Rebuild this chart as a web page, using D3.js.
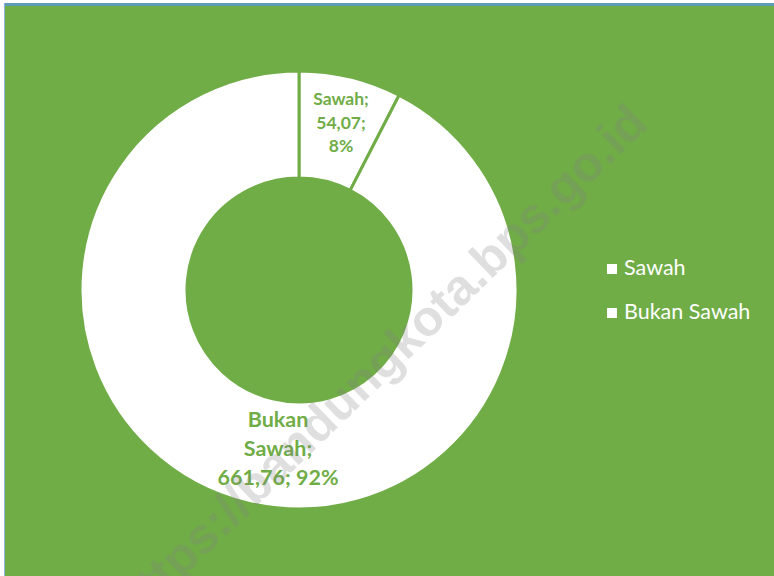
<!DOCTYPE html>
<html><head><meta charset="utf-8">
<script src="https://cdn.jsdelivr.net/npm/d3@7"></script>
<style>html,body{margin:0;padding:0;background:#fff;}svg{display:block;}</style>
</head><body>
<script>
const categories = ["Sawah", "Bukan Sawah"];
const values = [54.07, 661.76];
const percentLabels = ["8%", "92%"];
const valueLabels = ["54,07", "661,76"];
const watermark = "https://bandungkota.bps.go.id";

const W = 774, H = 576;
const green = "#70AD47";
const svg = d3.select("body").append("svg").attr("width", W).attr("height", H);

// background and border
svg.append("rect").attr("x", 0).attr("y", 0).attr("width", W).attr("height", H).attr("fill", "#fff");
svg.append("rect").attr("x", 4).attr("y", 3).attr("width", W - 4).attr("height", H - 3).attr("fill", "#8fb4e3");
svg.append("rect").attr("x", 5).attr("y", 3).attr("width", W - 5).attr("height", 3).attr("fill", "#5c9db5");
svg.append("rect").attr("x", 5).attr("y", 6).attr("width", W - 5).attr("height", H - 6).attr("fill", green);

const cx = 299, cy = 290, rOuter = 219, rInner = 112;
const data = categories.map((c, i) => ({ name: c, value: values[i], pct: percentLabels[i], val: valueLabels[i] }));
const pie = d3.pie().value(d => d.value).sort(null);
const arc = d3.arc().innerRadius(rInner).outerRadius(rOuter);
const arcs = pie(data);

const g = svg.append("g").attr("transform", `translate(${cx},${cy})`);
g.selectAll("path.slice").data(arcs).join("path")
  .attr("class", "slice")
  .attr("d", arc)
  .attr("fill", "#ffffff")
  .attr("stroke", green)
  .attr("stroke-width", 3)
  .attr("stroke-linejoin", "miter");

// data labels
const font = "Lato, 'Open Sans', 'Liberation Sans', sans-serif";
const labelSpecs = [
  { lines: d => [d.name + ";", d.val + ";", d.pct], size: 17.5, lh: 23.5, dx: 42, dy: -185 },
  { lines: d => ["Bukan", "Sawah;", d.val + "; " + d.pct], size: 21.5, lh: 29, dx: -21, dy: 137 }
];
arcs.forEach((a, i) => {
  const s = labelSpecs[i];
  const t = g.append("text")
    .attr("text-anchor", "middle")
    .attr("font-family", font)
    .attr("font-weight", "bold")
    .attr("font-size", s.size)
    .attr("fill", green);
  s.lines(a.data).forEach((ln, k) => {
    t.append("tspan").attr("x", s.dx).attr("y", s.dy + k * s.lh).text(ln);
  });
});

// legend
const legend = svg.append("g").attr("transform", "translate(607,0)");
const legY = d3.scalePoint().domain(categories).range([275, 319]);
categories.forEach(c => {
  legend.append("rect").attr("x", 0).attr("y", legY(c) - 11).attr("width", 10).attr("height", 10).attr("fill", "#fff");
  legend.append("text").attr("x", 17).attr("y", legY(c))
    .attr("font-family", font).attr("font-size", 21.5).attr("fill", "#fff").text(c);
});

// watermark
svg.append("text")
  .attr("transform", "translate(650,126) rotate(-44)")
  .attr("text-anchor", "end")
  .attr("font-family", "'Liberation Sans', Arial, sans-serif")
  .attr("font-weight", "bold")
  .attr("font-size", 50)
  .attr("fill", "#808080")
  .attr("fill-opacity", 0.25)
  .text(watermark);
</script>
</body></html>
